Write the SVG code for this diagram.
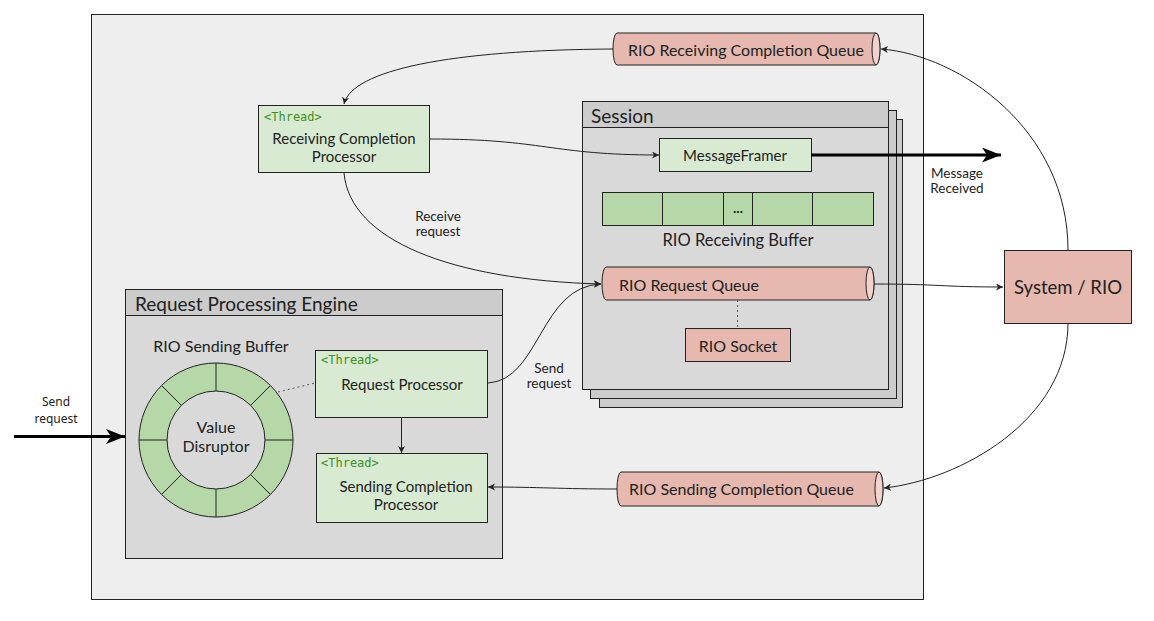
<svg xmlns="http://www.w3.org/2000/svg" width="1154" height="621" viewBox="0 0 1154 621">
<defs>
<style>
text{font-family:Lato,"Noto Sans",sans-serif;fill:#222;}
.t15{font-size:15px;}
.t16{font-size:16px;}
.t19{font-size:19px;}
.sm{font-size:13.5px;}
.thr{font-family:"DejaVu Sans Mono","Liberation Mono",monospace;font-size:12px;fill:#3f8f1f;}
.green{fill:#d9ead3;stroke:#222;stroke-width:1;}
.cell{fill:#b6d7a8;stroke:#222;stroke-width:1;}
.pink{fill:#e6b8af;stroke:#222;stroke-width:1;}
.cap{fill:#f2d2cc;stroke:#222;stroke-width:1;}
.hdr{fill:#cccccc;stroke:#222;stroke-width:1;}
.body{fill:#d9d9d9;stroke:#222;stroke-width:1;}
.conn{fill:none;stroke:#222;stroke-width:1;}
.thick{fill:none;stroke:#000;stroke-width:3;}
.dot{fill:none;stroke:#555;stroke-width:1;stroke-dasharray:2,3;}
</style>
<marker id="arr" markerUnits="userSpaceOnUse" markerWidth="8" markerHeight="8" refX="7" refY="3.5" orient="auto">
<path d="M0,0 L7,3.5 L0,7 L2,3.5 Z" fill="#222"/>
</marker>
<marker id="big" markerUnits="userSpaceOnUse" markerWidth="20" markerHeight="16" refX="19" refY="7.5" orient="auto">
<path d="M0,0 L19,7.5 L0,15 L5,7.5 Z" fill="#000"/>
</marker>
</defs>
<rect width="1154" height="621" fill="#fff"/>

<g id="container">
<rect x="91.5" y="14.5" width="832" height="585" fill="#eeeeee" stroke="#222"/>
</g>

<g id="rio-receiving-completion-queue">
<path class="pink" d="M617,33 L876,33 A4,16 0 0 1 876,65 L617,65 A4,16 0 0 1 617,33 Z"/>
<ellipse class="cap" cx="876" cy="49" rx="4" ry="16"/>
<text class="t16" x="628" y="49" dominant-baseline="central">RIO Receiving Completion Queue</text>
</g>

<g id="receiving-completion-processor">
<rect class="green" x="258.5" y="105.5" width="171" height="67"/>
<text class="thr" x="264" y="117" dominant-baseline="central">&lt;Thread&gt;</text>
<text class="t15" x="344" y="137.5" text-anchor="middle" dominant-baseline="central">Receiving Completion</text>
<text class="t15" x="344" y="155.5" text-anchor="middle" dominant-baseline="central">Processor</text>
</g>

<g id="session">
<rect class="hdr" x="599.5" y="119.5" width="303" height="288"/>
<rect class="hdr" x="590.5" y="110.5" width="306" height="288"/>
<rect class="body" x="582.5" y="101.5" width="306" height="288"/>
<rect class="hdr" x="582.5" y="101.5" width="306" height="26"/>
<text class="t19" x="591" y="115" dominant-baseline="central">Session</text>
</g>

<g id="message-framer">
<rect class="green" x="659.5" y="138.5" width="152" height="33"/>
<text x="735" y="155" text-anchor="middle" dominant-baseline="central" style="font-size:15px">MessageFramer</text>
</g>

<g id="rio-receiving-buffer">
<rect class="cell" x="602.5" y="192.5" width="60" height="33"/>
<rect class="cell" x="662.5" y="192.5" width="61" height="33"/>
<rect class="cell" x="723.5" y="192.5" width="29" height="33"/>
<rect class="cell" x="752.5" y="192.5" width="60" height="33"/>
<rect class="cell" x="812.5" y="192.5" width="61" height="33"/>
<text x="738" y="213" text-anchor="middle" style="font-size:14px;font-weight:bold">...</text>
<text x="738" y="240" text-anchor="middle" dominant-baseline="central" style="font-size:16.5px">RIO Receiving Buffer</text>
</g>

<g id="rio-request-queue">
<path class="pink" d="M606,267 L870,267 A4,16.5 0 0 1 870,300 L606,300 A4,16.5 0 0 1 606,267 Z"/>
<ellipse class="cap" cx="870" cy="283.5" rx="4" ry="16.5"/>
<text class="t16" x="619" y="284" dominant-baseline="central">RIO Request Queue</text>
</g>

<g id="rio-socket">
<rect class="pink" x="685.5" y="328.5" width="105" height="33"/>
<text class="t16" x="738" y="345" text-anchor="middle" dominant-baseline="central">RIO Socket</text>
</g>

<g id="system-rio">
<rect class="pink" x="1004.5" y="250.5" width="127" height="73"/>
<text x="1068" y="287" text-anchor="middle" dominant-baseline="central" style="font-size:18.5px">System / RIO</text>
</g>

<g id="request-processing-engine">
<rect class="body" x="125.5" y="289.5" width="377" height="269"/>
<rect class="hdr" x="125.5" y="289.5" width="377" height="26"/>
<text class="t19" x="135" y="303" dominant-baseline="central">Request Processing Engine</text>
</g>

<g id="rio-sending-buffer">
<text class="t16" x="221" y="345" text-anchor="middle" dominant-baseline="central">RIO Sending Buffer</text>
<circle class="cell" cx="216" cy="440" r="77"/>
<circle class="body" cx="216" cy="440" r="49"/>
<path class="conn" d="M265,440 L293,440 M250.6,474.6 L270.4,494.4 M216,489 L216,517 M181.4,474.6 L161.6,494.4 M167,440 L139,440 M181.4,405.4 L161.6,385.6 M216,391 L216,363 M250.6,405.4 L270.4,385.6"/>
<text class="t16" x="216" y="426" text-anchor="middle" dominant-baseline="central">Value</text>
<text class="t16" x="216" y="445" text-anchor="middle" dominant-baseline="central">Disruptor</text>
</g>

<g id="request-processor">
<rect class="green" x="315.5" y="350.5" width="172" height="67"/>
<text class="thr" x="321" y="360" dominant-baseline="central">&lt;Thread&gt;</text>
<text class="t15" x="402" y="384" text-anchor="middle" dominant-baseline="central">Request Processor</text>
</g>

<g id="sending-completion-processor">
<rect class="green" x="316.5" y="453.5" width="171" height="69"/>
<text class="thr" x="321" y="463" dominant-baseline="central">&lt;Thread&gt;</text>
<text class="t15" x="406" y="486" text-anchor="middle" dominant-baseline="central">Sending Completion</text>
<text class="t15" x="406" y="503.5" text-anchor="middle" dominant-baseline="central">Processor</text>
</g>

<g id="rio-sending-completion-queue">
<path class="pink" d="M621,472 L879,472 A4,17 0 0 1 879,506 L621,506 A4,17 0 0 1 621,472 Z"/>
<ellipse class="cap" cx="879" cy="489" rx="4" ry="17"/>
<text class="t16" x="629" y="488.5" dominant-baseline="central">RIO Sending Completion Queue</text>
</g>

<g id="connectors">
<path class="conn" marker-end="url(#arr)" d="M613,49 C450,50 352,70 344,104"/>
<path class="conn" marker-end="url(#arr)" d="M430,139 C545,139 550,155 659,155"/>
<path class="thick" marker-end="url(#big)" d="M811,155 L1001,155"/>
<path class="conn" marker-end="url(#arr)" d="M344,173 C350,240 450,280 601,284"/>
<path class="conn" marker-end="url(#arr)" d="M488,383 C540,380 540,286 601,284"/>
<path class="conn" marker-end="url(#arr)" d="M874,284 C940,284 940,287 1003,287"/>
<path class="conn" marker-end="url(#arr)" d="M1068,250 C1068,130 960,55 881,49"/>
<path class="conn" marker-end="url(#arr)" d="M1068,323 C1068,420 960,480 884,488"/>
<path class="conn" marker-end="url(#arr)" d="M617,489 C560,489 540,487 488,487"/>
<path class="conn" marker-end="url(#arr)" d="M401.5,417 L401.5,453"/>
<path class="thick" marker-end="url(#big)" d="M14,436.5 L125,436.5"/>
<path class="dot" d="M278,392 L315,383"/>
<path class="dot" d="M737.5,300 L737.5,328"/>
<text class="sm" x="438" y="215.5" text-anchor="middle" dominant-baseline="central">Receive</text>
<text class="sm" x="438" y="231" text-anchor="middle" dominant-baseline="central">request</text>
<text class="sm" x="549" y="367.5" text-anchor="middle" dominant-baseline="central">Send</text>
<text class="sm" x="549" y="383" text-anchor="middle" dominant-baseline="central">request</text>
<text class="sm" x="957" y="173" text-anchor="middle" dominant-baseline="central">Message</text>
<text class="sm" x="957" y="188" text-anchor="middle" dominant-baseline="central">Received</text>
<text x="56" y="401.5" text-anchor="middle" dominant-baseline="central" style="font-family:'Noto Sans',sans-serif;font-size:12px">Send</text>
<text x="56" y="418.5" text-anchor="middle" dominant-baseline="central" style="font-family:'Noto Sans',sans-serif;font-size:12px">request</text>
</g>
</svg>
